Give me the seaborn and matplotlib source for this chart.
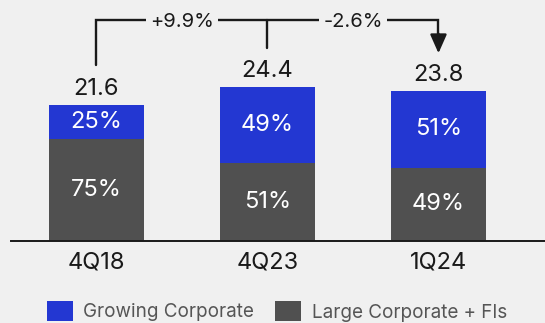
import matplotlib
matplotlib.use("Agg")
import matplotlib.pyplot as plt
from matplotlib.patches import Rectangle
import seaborn as sns
import pandas as pd

quarters = ["4Q18", "4Q23", "1Q24"]
totals = [21.6, 24.4, 23.8]
growing_pct = [25, 49, 51]
large_pct = [75, 51, 49]
series_names = ["Growing Corporate", "Large Corporate + FIs"]
changes = ["+9.9%", "-2.6%"]

BG = "#f0f0f0"
BLUE = "#2337d2"
GRAY = "#505050"
INK = "#1a1a1a"
FONT = ["Inter", "DejaVu Sans"]

sns.set_theme(style="white")
plt.rcParams["font.family"] = FONT

large_vals = [t * p / 100 for t, p in zip(totals, large_pct)]
df = pd.DataFrame({"quarter": quarters, "total": totals, "large": large_vals})

fig = plt.figure(figsize=(5.45, 3.23), dpi=100, facecolor=BG)
ax = fig.add_axes([11 / 545, 82 / 323, 534 / 545, 241 / 323])
ax.set_facecolor(BG)

W = 0.556
sns.barplot(data=df, x="quarter", y="total", color=BLUE, saturation=1,
            width=W, linewidth=0, ax=ax)
sns.barplot(data=df, x="quarter", y="large", color=GRAY, saturation=1,
            width=W, linewidth=0, ax=ax)

ax.set_xlim(-0.5, 2.623)
ax.set_ylim(0, 241 / 6.3)
for s in ["top", "right", "left"]:
    ax.spines[s].set_visible(False)
ax.spines["bottom"].set_color(INK)
ax.spines["bottom"].set_linewidth(1.4)
ax.set_yticks([])
ax.set_xlabel("")
ax.set_ylabel("")
ax.tick_params(axis="x", length=0, pad=7.5, labelsize=17, labelcolor=INK)

LBL = 17
for i, (t, g, l, lv) in enumerate(zip(totals, growing_pct, large_pct, large_vals)):
    ax.annotate(f"{t:.1f}", (i, t), xytext=(0, 7.5), textcoords="offset points",
                ha="center", va="baseline", fontsize=LBL, color=INK)
    ax.text(i, lv + (t - lv) / 2, f"{g}%", ha="center", va="center",
            fontsize=LBL, color="white")
    ax.text(i, lv / 2, f"{l}%", ha="center", va="center",
            fontsize=LBL, color="white")

# bracket annotation
gap = 6.3
ytop = 35.08
lw = 1.7
ax.plot([0, 0, 2, 2], [totals[0] + gap, ytop, ytop, totals[2] + gap + 2.6],
        color=INK, lw=lw, clip_on=False, solid_joinstyle="miter")
ax.plot([1, 1], [totals[1] + gap, ytop], color=INK, lw=lw, clip_on=False)
ax.annotate("", xy=(2, totals[2] + gap - 0.3), xytext=(2, totals[2] + gap + 2.8),
            arrowprops=dict(arrowstyle="-|>,head_length=0.95,head_width=0.42",
                            color=INK, lw=lw, shrinkA=0, shrinkB=0),
            annotation_clip=False)
for i, c in enumerate(changes):
    ax.text(i + 0.5, ytop - 0.25, c, ha="center", va="center", fontsize=14.5,
            color=INK, bbox=dict(boxstyle="square,pad=0.2", fc=BG, ec="none"),
            clip_on=False)

# legend
for k, (name, col) in enumerate(zip(series_names, [BLUE, GRAY])):
    px = [47, 275][k]
    fig.patches.append(Rectangle((px / 545, 2 / 323), 26 / 545, 20 / 323,
                                 transform=fig.transFigure, fc=col, ec="none"))
    tx = [83, 312][k]
    by = [6, 4.5][k]
    fig.text(tx / 545, by / 323, name, ha="left", va="baseline",
             fontsize=13.6, color="#555555")

fig.savefig("out.png", dpi=100, facecolor=BG)
